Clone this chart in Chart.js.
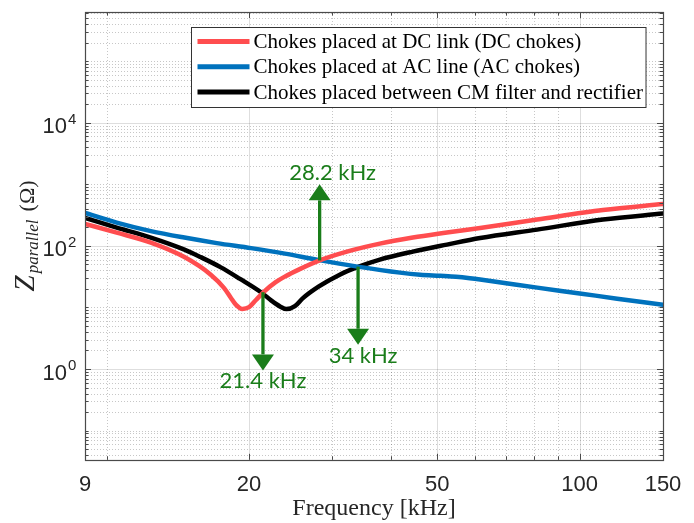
<!DOCTYPE html>
<html lang="en">
<head>
<meta charset="utf-8">
<title>Z parallel vs frequency</title>
<script src="https://cdn.jsdelivr.net/npm/chart.js"></script>
<style>
  html, body { margin: 0; padding: 0; background: #fff; }
</style>
</head>
<body>
<canvas id="zChart" width="694" height="523"></canvas>
<script>
// frequency in kHz, impedance in ohm
const dcFreq = [9, 10.5, 12.4, 14.6, 16.6, 17.7, 18.3, 18.75, 19.35, 20, 20.66, 21.55, 22.77, 23.8, 25.6, 28.1, 32.2, 37.8, 44.4, 52.4, 61.6, 81.3, 112, 150];
const dcZ    = [228, 164.6, 113, 65.8, 34.1, 20.8, 14.4, 11.1, 9.45, 10.1, 13.1, 18.3, 25.8, 31.7, 42, 57.7, 80.8, 109, 136.5, 164.6, 196, 268, 382, 478];

const acFreq = [9, 10.5, 12.4, 14.6, 17.1, 20.2, 23.8, 28.1, 33.9, 41.7, 46, 50.7, 54.8, 58.6, 61.6, 69.9, 81.3, 100, 120, 150];
const acZ    = [344, 239, 174, 136.5, 111, 92.1, 75, 58.8, 46.1, 36.8, 34.1, 32.7, 31.5, 29.9, 28.5, 24.8, 21, 16.9, 13.9, 11.1];

const cmFreq = [9, 10.5, 12.4, 14.6, 15.8, 17.4, 19.1, 21.3, 22.3, 23.3, 24.0, 25.0, 26.0, 28.1, 31.1, 34, 37.8, 44.4, 52.4, 61.6, 81.3, 112, 150];
const cmZ    = [285, 198.5, 136.5, 87.1, 65.8, 45.2, 29.4, 17.2, 12.9, 10.3, 9.4, 10.5, 14.2, 22, 34.1, 45.5, 59.9, 80.8, 105, 134, 184, 268, 335];

const seriesNames = [
  'Chokes placed at DC link (DC chokes)',
  'Chokes placed at AC line (AC chokes)',
  'Chokes placed between CM filter and rectifier'
];

const xTickValues = [9, 20, 50, 100, 150];
const xTickLabels = ['9', '20', '50', '100', '150'];
const xMinorGrid = [10, 30, 40, 60, 70, 80, 90];
const yTickValues = [1, 100, 10000];
const yTickExponents = ['0', '2', '4'];

// resonance markers
const markFreq   = [28.2, 21.4, 34];
const markFromZ  = [58, 17.7, 46];
const markToZ    = [1000, 0.95, 2.48];
const markLabels = ['28.2 kHz', '21.4 kHz', '34 kHz'];

const green = '#1a7d1a';
const axisText = '#262626';

function pts(xs, ys) {
  return xs.map((v, i) => ({ x: v, y: ys[i] }));
}

function yMinorValues(scale) {
  const out = [];
  for (let d = -2; d <= 6; d++) {
    for (let k = 1; k <= 9; k++) {
      const v = k * Math.pow(10, d);
      if (v > scale.min && v < scale.max && !yTickValues.includes(v)) out.push(v);
    }
  }
  return out;
}

const overlay = {
  id: 'overlay',
  beforeDatasetsDraw(chart) {
    const { ctx, chartArea: a, scales: { x, y } } = chart;
    ctx.save();
    ctx.lineWidth = 1;

    // minor grid (dotted)
    ctx.strokeStyle = 'rgba(0,0,0,0.22)';
    ctx.setLineDash([1, 2]);
    ctx.beginPath();
    xMinorGrid.forEach(v => {
      const px = Math.round(x.getPixelForValue(v)) + 0.5;
      ctx.moveTo(px, a.top); ctx.lineTo(px, a.bottom);
    });
    yMinorValues(y).forEach(v => {
      const py = Math.round(y.getPixelForValue(v)) + 0.5;
      ctx.moveTo(a.left, py); ctx.lineTo(a.right, py);
    });
    ctx.stroke();

    // major grid (solid)
    ctx.setLineDash([]);
    ctx.strokeStyle = 'rgba(0,0,0,0.13)';
    ctx.beginPath();
    xTickValues.forEach(v => {
      const px = Math.round(x.getPixelForValue(v)) + 0.5;
      ctx.moveTo(px, a.top); ctx.lineTo(px, a.bottom);
    });
    yTickValues.forEach(v => {
      const py = Math.round(y.getPixelForValue(v)) + 0.5;
      ctx.moveTo(a.left, py); ctx.lineTo(a.right, py);
    });
    ctx.stroke();
    ctx.restore();
  },

  afterDatasetsDraw(chart) {
    const { ctx, chartArea: a, scales: { x, y } } = chart;
    ctx.save();

    // axes box + inward tick marks (MATLAB style)
    ctx.strokeStyle = '#4a4a4a';
    ctx.lineWidth = 1;
    ctx.beginPath();
    const tick = (px, major) => {
      const L = major ? 6 : 3.5;
      ctx.moveTo(px, a.bottom); ctx.lineTo(px, a.bottom - L);
      ctx.moveTo(px, a.top); ctx.lineTo(px, a.top + L);
    };
    xTickValues.forEach(v => tick(Math.round(x.getPixelForValue(v)) + 0.5, true));
    xMinorGrid.forEach(v => tick(Math.round(x.getPixelForValue(v)) + 0.5, false));
    const ytick = (py, major) => {
      const L = major ? 6 : 3.5;
      ctx.moveTo(a.left, py); ctx.lineTo(a.left + L, py);
      ctx.moveTo(a.right, py); ctx.lineTo(a.right - L, py);
    };
    yTickValues.forEach(v => ytick(Math.round(y.getPixelForValue(v)) + 0.5, true));
    yMinorValues(y).forEach(v => ytick(Math.round(y.getPixelForValue(v)) + 0.5, false));
    ctx.stroke();
    ctx.lineWidth = 1.2;
    ctx.strokeRect(Math.round(a.left) + 0.5, Math.round(a.top) + 0.5,
      Math.round(a.right - a.left), Math.round(a.bottom - a.top));

    // y tick labels: 10^n
    ctx.fillStyle = axisText;
    ctx.textBaseline = 'alphabetic';
    yTickValues.forEach((v, i) => {
      const py = y.getPixelForValue(v);
      ctx.font = '22px "Liberation Sans", Arial, sans-serif';
      ctx.textAlign = 'right';
      ctx.fillText('10', a.left - 18, py + 10.5);
      ctx.font = '15px "Liberation Sans", Arial, sans-serif';
      ctx.textAlign = 'left';
      ctx.fillText(yTickExponents[i], a.left - 17, py + 1);
    });

    // y axis title: Z_parallel (Ω)
    const parts = [
      { t: 'Z', font: 'italic 29px "Liberation Serif", serif', dy: 0 },
      { t: 'parallel', font: 'italic 17px "Liberation Serif", serif', dy: 4, gap: 2 },
      { t: '(\u03A9)', font: '22px "Liberation Serif", serif', dy: 0, gap: 8 }
    ];
    let total = 0;
    parts.forEach(p => { ctx.font = p.font; p.w = ctx.measureText(p.t).width; total += p.w + (p.gap || 0); });
    ctx.save();
    ctx.translate(34, (a.top + a.bottom) / 2);
    ctx.rotate(-Math.PI / 2);
    ctx.textAlign = 'left';
    let cx = -total / 2;
    parts.forEach(p => {
      cx += p.gap || 0;
      ctx.font = p.font;
      ctx.fillText(p.t, cx, p.dy);
      cx += p.w;
    });
    ctx.restore();

    // resonance arrows
    const labelDx = [13, 0, 5];
    ctx.strokeStyle = green;
    ctx.fillStyle = green;
    markFreq.forEach((f, i) => {
      const px = x.getPixelForValue(f);
      const y0 = y.getPixelForValue(markFromZ[i]);
      const y1 = y.getPixelForValue(markToZ[i]);
      const dir = y1 < y0 ? -1 : 1;
      const headL = 16, headW = 11;
      ctx.lineWidth = 3.3;
      ctx.beginPath();
      ctx.moveTo(px, y0);
      ctx.lineTo(px, y1 - dir * headL);
      ctx.stroke();
      ctx.beginPath();
      ctx.moveTo(px, y1);
      ctx.lineTo(px - headW, y1 - dir * headL);
      ctx.lineTo(px + headW, y1 - dir * headL);
      ctx.closePath();
      ctx.fill();
      ctx.font = '22px Lato, "Open Sans", sans-serif';
      ctx.textAlign = 'center';
      ctx.textBaseline = 'middle';
      ctx.fillText(markLabels[i], px + labelDx[i], y1 + dir * 11);
    });

    // legend box
    ctx.font = '21px "Liberation Serif", serif';
    const sets = chart.data.datasets;
    const textW = Math.max(...sets.map(d => ctx.measureText(d.label).width));
    const lineLen = 52, padL = 6, gap = 4, padR = 3, rowH = 25.3;
    const boxW = padL + lineLen + gap + textW + padR;
    const boxH = 80;
    const bx = Math.round(a.right - 17 - boxW) + 0.5;
    const by = Math.round(a.top + 15) + 0.5;
    ctx.fillStyle = '#fff';
    ctx.fillRect(bx, by, boxW, boxH);
    ctx.strokeStyle = '#333';
    ctx.lineWidth = 1;
    ctx.strokeRect(bx, by, boxW, boxH);
    ctx.textAlign = 'left';
    ctx.textBaseline = 'middle';
    sets.forEach((d, i) => {
      const ry = by + 14 + i * rowH;
      ctx.strokeStyle = d.borderColor;
      ctx.lineWidth = 5;
      ctx.beginPath();
      ctx.moveTo(bx + padL, ry);
      ctx.lineTo(bx + padL + lineLen, ry);
      ctx.stroke();
      ctx.fillStyle = '#000';
      ctx.fillText(d.label, bx + padL + lineLen + gap, ry + 1);
    });

    ctx.restore();
  }
};

new Chart(document.getElementById('zChart'), {
  type: 'line',
  data: {
    datasets: [
      { label: seriesNames[0], data: pts(dcFreq, dcZ), borderColor: '#ff4d4f' },
      { label: seriesNames[1], data: pts(acFreq, acZ), borderColor: '#0072bd' },
      { label: seriesNames[2], data: pts(cmFreq, cmZ), borderColor: '#000000' }
    ]
  },
  options: {
    responsive: false,
    animation: false,
    layout: { padding: { left: 85, right: 31, top: 12, bottom: 0 } },
    elements: {
      line: { borderWidth: 4.5, cubicInterpolationMode: 'monotone', fill: false, borderCapStyle: 'round', borderJoinStyle: 'round' },
      point: { radius: 0 }
    },
    plugins: {
      legend: { display: false },
      tooltip: { enabled: false }
    },
    scales: {
      x: {
        type: 'logarithmic',
        min: 9,
        max: 150,
        afterBuildTicks: scale => { scale.ticks = xTickValues.map(v => ({ value: v })); },
        ticks: {
          autoSkip: false,
          maxRotation: 0,
          padding: 12,
          color: axisText,
          font: { family: '"Liberation Sans", Arial, sans-serif', size: 22 },
          callback: v => xTickLabels[xTickValues.indexOf(v)]
        },
        grid: { display: false, drawTicks: false },
        border: { display: false },
        title: {
          display: true,
          text: 'Frequency [kHz]',
          color: axisText,
          padding: { top: -16, bottom: 0 },
          font: { family: '"Liberation Serif", serif', size: 24 }
        }
      },
      y: {
        type: 'logarithmic',
        min: Math.pow(10, -1.475),
        max: Math.pow(10, 5.8),
        ticks: { display: false },
        grid: { display: false, drawTicks: false },
        border: { display: false }
      }
    }
  },
  plugins: [overlay]
});
</script>
</body>
</html>
